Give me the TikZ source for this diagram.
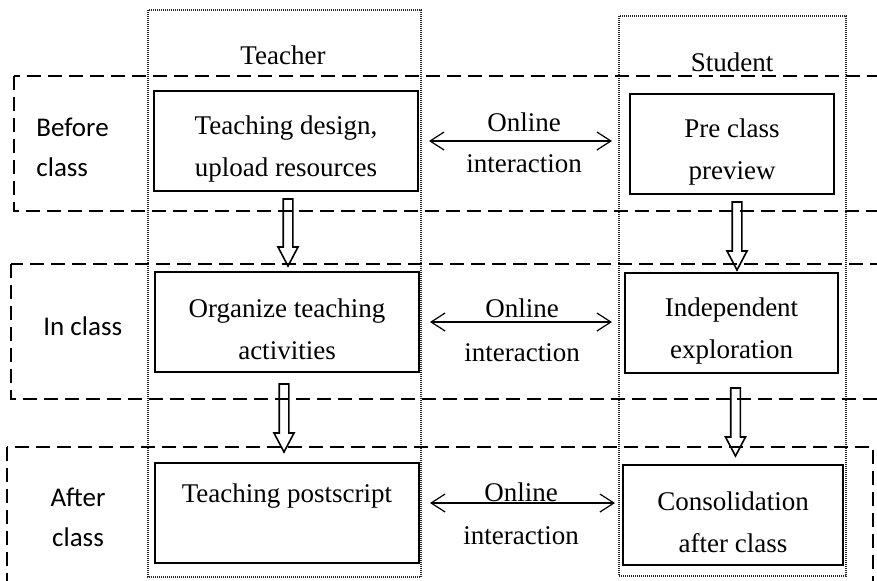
\documentclass[tikz,border=0pt]{standalone}
\usepackage{fontspec}
\setmainfont{Liberation Serif}
\newfontfamily\phasefont{Carlito}
\usetikzlibrary{arrows.meta,calc}

\newcommand{\topgap}{\rule{0pt}{17pt}}

\tikzset{
  box/.style={draw, line width=1pt, minimum height=50pt, inner sep=0pt,
    align=center, font=\fontsize{13.5}{21}\selectfont},
  head/.style={font=\fontsize{13.5}{20}\selectfont},
  phase/.style={align=left, inner sep=0pt, font=\phasefont\fontsize{13.5}{20}\selectfont},
  lane/.style={line width=0.6pt, dash pattern=on 0.5pt off 0.5pt, black!85},
  stage/.style={line width=1pt, dash pattern=on 7pt off 3.5pt},
  link/.style={line width=0.6pt, {Straight Barb[length=7pt,width=9pt]}-{Straight Barb[length=7pt,width=9pt]},
    font=\fontsize{13.5}{20}\selectfont},
  hollow/.style={line width=0.8pt}
}

% hollow block arrow going down, from the first point to the second
\newcommand{\hollowarrow}[2]{%
  \draw[hollow] let \p1=(#1), \p2=(#2) in
    (\x1-2.4pt,\y1) -- (\x1+2.4pt,\y1) -- (\x1+2.4pt,\y2+9.5pt) -- (\x1+5pt,\y2+9.5pt)
    -- (\x1,\y2) -- (\x1-5pt,\y2+9.5pt) -- (\x1-2.4pt,\y2+9.5pt) -- cycle;}

\begin{document}
\begin{tikzpicture}[x=0.5pt, y=-0.5pt]
  \clip (0,0) rectangle (877,580);

  % lanes and stages
  \draw[lane] (148,10) rectangle (421,577);
  \draw[lane] (619,16) rectangle (846,576);
  \draw[stage] (14,76) rectangle (890,211);
  \draw[stage] (11,264) rectangle (890,399);
  \draw[stage] (7,447) rectangle (873,600);

  \node[head] (teacher) at (283,55) {Teacher};
  \node[head] (student) at (732,62) {Student};

  \node[phase, anchor=west] (before) at (36,147) {Before\\class};
  \node[phase, anchor=west] (in) at (43,326) {In class};
  \node[phase, align=center] (after) at (78,517) {After\\class};

  % teacher side
  \node[box, minimum width=132pt] (t1) at (286,141) {\topgap Teaching design,\\upload resources};
  \node[box, minimum width=132pt] (t2) at (287,322) {\topgap Organize teaching\\activities};
  \node[box, minimum width=132pt] (t3) at (287,513) {\topgap Teaching postscript\\\strut};

  % student side
  \node[box, minimum width=102pt] (s1) at (732,144) {\topgap Pre class\\preview};
  \node[box, minimum width=106.5pt] (s2) at (731.5,323) {\topgap Independent\\exploration};
  \node[box, minimum width=110pt] (s3) at (733,515) {\topgap Consolidation\\after class};

  % online interaction
  \draw[link, shorten <=5pt, shorten >=8.5pt] (t1.east) -- (t1.east -| s1.west)
    node[midway, above=1pt] {Online} node[midway, below=3pt] {interaction};
  \draw[link, shorten <=5pt, shorten >=6pt] (t2.east) -- (t2.east -| s2.west)
    node[midway, above=-1.5pt] {Online} node[midway, below=7pt] {interaction};
  \draw[link, shorten <=5pt, shorten >=3.5pt] ([yshift=5pt]t3.east) -- ([yshift=5pt]t3.east -| s3.west)
    node[midway, above=-3pt] {Online} node[midway, below=8pt] {interaction};

  % flow down
  \hollowarrow{$(t1.south)+(2,7)$}{$(t2.north)+(2,-5)$}
  \hollowarrow{$(s1.south)+(5,7)$}{$(s2.north)+(5,-2)$}
  \hollowarrow{$(t2.south)+(-3,11)$}{$(t3.north)+(-3,-10)$}
  \hollowarrow{$(s2.south)+(4,14)$}{$(s3.north)+(2,-8)$}
\end{tikzpicture}
\end{document}
